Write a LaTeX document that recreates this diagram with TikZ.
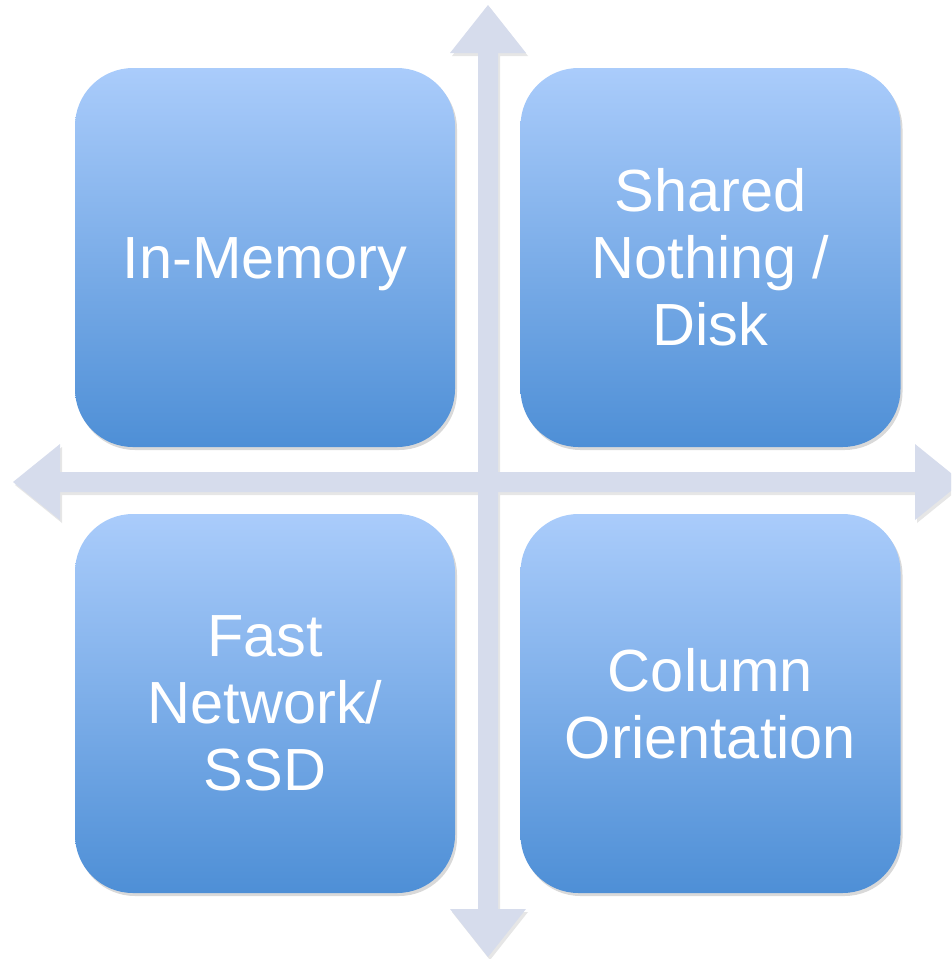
\documentclass[tikz,border=0pt]{standalone}
\usepackage{fontspec}
\setmainfont{Liberation Sans}
\usetikzlibrary{shadows}
\definecolor{quadtop}{RGB}{170,204,251}
\definecolor{quadbot}{RGB}{78,143,214}
\definecolor{axisgray}{RGB}{214,220,236}
\begin{document}
\begin{tikzpicture}[line cap=round,line join=round,x=1pt,y=-1pt,
  quad/.style={rounded corners=58pt,minimum width=380pt,minimum height=379pt,
    top color=quadtop,bottom color=quadbot,text=white,align=center,
    font=\fontsize{59.5}{67}\selectfont,
    drop shadow={opacity=0.3,shadow xshift=2pt,shadow yshift=-3pt}},
  axis/.style={fill=axisgray,draw=none,
    drop shadow={opacity=0.2,shadow xshift=2pt,shadow yshift=-3pt}}]
\clip (0,0) rectangle (951,959);
\fill[axis] (488,5) -- (526,53) -- (498,53) -- (498,909) -- (526,909) -- (488,957) -- (450,909) -- (478,909) -- (478,53) -- (450,53) -- cycle
  (13,482) -- (60,444) -- (60,472) -- (915,472) -- (915,444) -- (962,482) -- (915,520) -- (915,492) -- (60,492) -- (60,520) -- cycle;
\node[quad,text depth=0pt,text height=0pt] (inmem) at (265,257.5) {\raisebox{-0.35em}{In-Memory}};
\node[quad] (shared) at (710.5,257.5) {Shared\\Nothing /\\Disk};
\node[quad] (fastnet) at (265,703.5) {Fast\\Network/\\SSD};
\node[quad] (column) at (710.5,703.5) {Column\\Orientation};
\end{tikzpicture}
\end{document}
